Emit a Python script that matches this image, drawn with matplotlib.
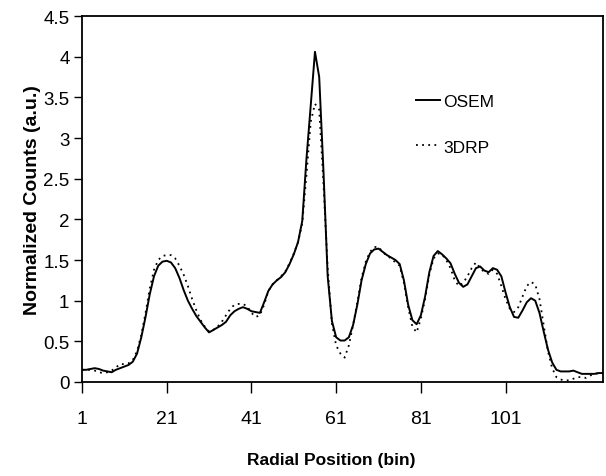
import matplotlib
matplotlib.use("Agg")
import matplotlib.pyplot as plt

bins = list(range(1, 125))

osem = [0.15, 0.15, 0.16, 0.17, 0.16, 0.14, 0.13, 0.12, 0.15, 0.17,
        0.19, 0.21, 0.25, 0.35, 0.55, 0.80, 1.08, 1.30, 1.43, 1.48,
        1.49, 1.47, 1.40, 1.28, 1.13, 1.00, 0.90, 0.81, 0.74, 0.67,
        0.61, 0.64, 0.67, 0.70, 0.74, 0.82, 0.87, 0.90, 0.92, 0.90,
        0.87, 0.86, 0.85, 0.98, 1.12, 1.20, 1.25, 1.29, 1.35, 1.45,
        1.57, 1.72, 1.98, 2.75, 3.40, 4.06, 3.75, 2.60, 1.30, 0.75,
        0.55, 0.51, 0.51, 0.55, 0.70, 0.95, 1.25, 1.45, 1.58, 1.63,
        1.64, 1.60, 1.56, 1.53, 1.50, 1.45, 1.25, 0.95, 0.76, 0.71,
        0.82, 1.05, 1.35, 1.55, 1.61, 1.57, 1.52, 1.46, 1.33, 1.22,
        1.17, 1.20, 1.30, 1.40, 1.42, 1.37, 1.35, 1.40, 1.38, 1.30,
        1.10, 0.92, 0.80, 0.79, 0.88, 0.98, 1.03, 1.00, 0.85, 0.62,
        0.40, 0.24, 0.15, 0.13, 0.13, 0.13, 0.14, 0.12, 0.10, 0.10,
        0.10, 0.10, 0.11, 0.11]

drp3 = [0.15, 0.15, 0.15, 0.14, 0.12, 0.11, 0.12, 0.14, 0.18, 0.22,
        0.22, 0.23, 0.27, 0.38, 0.58, 0.85, 1.15, 1.38, 1.50, 1.55,
        1.56, 1.56, 1.52, 1.43, 1.32, 1.18, 1.02, 0.88, 0.76, 0.68,
        0.62, 0.64, 0.68, 0.74, 0.82, 0.90, 0.95, 0.96, 0.96, 0.93,
        0.85, 0.80, 0.82, 0.95, 1.12, 1.20, 1.25, 1.30, 1.36, 1.46,
        1.58, 1.72, 1.95, 2.55, 3.20, 3.42, 3.35, 2.45, 1.40, 0.72,
        0.45, 0.35, 0.30, 0.45, 0.70, 0.98, 1.28, 1.48, 1.60, 1.66,
        1.66, 1.60, 1.55, 1.52, 1.47, 1.43, 1.22, 0.92, 0.68, 0.61,
        0.78, 1.02, 1.32, 1.52, 1.58, 1.57, 1.50, 1.40, 1.25, 1.18,
        1.22, 1.30, 1.40, 1.47, 1.40, 1.35, 1.33, 1.38, 1.33, 1.18,
        1.02, 0.90, 0.86, 0.92, 1.05, 1.18, 1.23, 1.20, 1.02, 0.70,
        0.38, 0.17, 0.06, 0.03, 0.02, 0.02, 0.04, 0.06, 0.06, 0.05,
        0.08, 0.10, 0.11, 0.11]

x_ticks = [1, 21, 41, 61, 81, 101]
y_ticks = [0, 0.5, 1, 1.5, 2, 2.5, 3, 3.5, 4, 4.5]
y_tick_labels = ["0", "0.5", "1", "1.5", "2", "2.5", "3", "3.5", "4", "4.5"]

plt.rcParams['font.family'] = ['Liberation Sans', 'DejaVu Sans']

fig = plt.figure(figsize=(6.06, 4.77), dpi=100)
ax = fig.add_axes([82/606, 1 - 383/477, (603-82)/606, (383-17)/477])

ax.plot(bins, osem, color='black', lw=1.4, label='OSEM')
ax.plot(bins, drp3, color='black', lw=1.3, linestyle=(0, (1, 2.4)), label='3DRP')

ax.set_xlim(1, 124)
ax.set_ylim(0, 4.5)
ax.set_xticks(x_ticks)
ax.set_xticklabels([str(v) for v in x_ticks])
ax.set_yticks(y_ticks)
ax.set_yticklabels(y_tick_labels)
ax.tick_params(axis='x', direction='out', length=8, width=1, labelsize=14, pad=12)
ax.tick_params(axis='y', direction='out', length=6, width=1, labelsize=13.5, pad=3)
for s in ax.spines.values():
    s.set_linewidth(1.3)
    s.set_color('black')

ax.set_xlabel('Radial Position (bin)', fontsize=12.5, fontweight='bold')
ax.xaxis.set_label_coords(0.478, -0.191)
ax.set_ylabel('Normalized Counts (a.u.)', fontsize=14, fontweight='bold', va='center')
ax.yaxis.set_label_coords(-0.095, 0.5)

ax.legend(loc='upper left', bbox_to_anchor=(0.611, 0.83), frameon=False,
          fontsize=12.5, handlelength=1.4, handletextpad=0.15, labelspacing=1.75)

fig.savefig('out.png', dpi=100)
